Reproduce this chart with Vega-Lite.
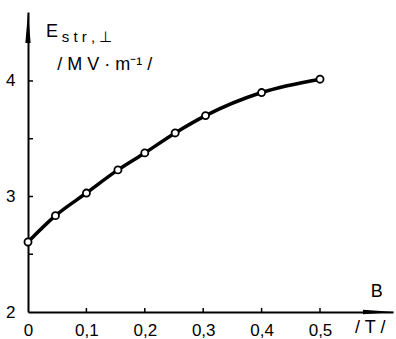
{
  "$schema": "https://vega.github.io/schema/vega-lite/v6.json",
  "width": 365,
  "height": 300,
  "autosize": {"type": "none"},
  "padding": {"left": 28, "top": 12, "right": 3, "bottom": 27},
  "background": "white",
  "config": {
    "view": {"stroke": null},
    "font": "Liberation Sans",
    "axis": {
      "grid": false,
      "ticks": false,
      "domainColor": "black",
      "domainWidth": 2,
      "labelColor": "black",
      "labelFont": "Liberation Sans",
      "labelFontSize": 17,
      "title": null
    }
  },
  "datasets": {
    "curve": [
      {"B": 0.0, "E": 2.606},
      {"B": 0.047, "E": 2.834},
      {"B": 0.1, "E": 3.03},
      {"B": 0.154, "E": 3.23},
      {"B": 0.2, "E": 3.377},
      {"B": 0.252, "E": 3.55},
      {"B": 0.304, "E": 3.70},
      {"B": 0.4, "E": 3.90},
      {"B": 0.5, "E": 4.015}
    ],
    "xticks": [{"v": 0.1}, {"v": 0.2}, {"v": 0.3}, {"v": 0.4}, {"v": 0.5}],
    "yticks": [{"v": 2.5}, {"v": 3}, {"v": 3.5}, {"v": 4}]
  },
  "layer": [
    {
      "data": {"name": "curve"},
      "mark": {"type": "line", "interpolate": "monotone", "color": "black", "strokeWidth": 3.5},
      "encoding": {
        "x": {
          "field": "B", "type": "quantitative",
          "scale": {"domain": [0, 0.625], "nice": false, "zero": false},
          "axis": {
            "orient": "bottom",
            "values": [0, 0.1, 0.2, 0.3, 0.4, 0.5],
            "labelExpr": "datum.value == 0 ? '0' : replace(format(datum.value, '.1f'), '.', ',')",
            "labelPadding": 10,
            "labelFlush": false
          }
        },
        "y": {
          "field": "E", "type": "quantitative",
          "scale": {"domain": [2, 4.597], "nice": false, "zero": false},
          "axis": {
            "orient": "left",
            "values": [2, 3, 4],
            "labelExpr": "format(datum.value, 'd')",
            "labelAlign": "right",
            "labelBaseline": "middle",
            "labelPadding": 13,
            "labelFlush": false
          }
        }
      }
    },
    {
      "data": {"name": "xticks"},
      "mark": {"type": "rule", "color": "black", "strokeWidth": 1.5},
      "encoding": {
        "x": {"field": "v", "type": "quantitative"},
        "y": {"datum": 2},
        "y2": {"datum": 2.035}
      }
    },
    {
      "data": {"name": "yticks"},
      "mark": {"type": "rule", "color": "black", "strokeWidth": 1.5},
      "encoding": {
        "y": {"field": "v", "type": "quantitative"},
        "x": {"datum": 0},
        "x2": {"datum": 0.0086}
      }
    },
    {
      "data": {"name": "curve"},
      "mark": {"type": "point", "shape": "circle", "filled": true, "fill": "white", "stroke": "black", "strokeWidth": 1.8, "size": 50, "opacity": 1},
      "encoding": {
        "x": {"field": "B", "type": "quantitative"},
        "y": {"field": "E", "type": "quantitative"}
      }
    },
    {
      "data": {"values": [{"B": 0, "E": 4.463}]},
      "mark": {"type": "point", "shape": "M 0 -1 L 0.17 1 L -0.17 1 Z", "filled": true, "color": "black", "size": 961, "opacity": 1},
      "encoding": {
        "x": {"field": "B", "type": "quantitative"},
        "y": {"field": "E", "type": "quantitative"}
      }
    },
    {
      "data": {"values": [{"B": 0.601, "E": 2}]},
      "mark": {"type": "point", "shape": "M 1 0 L -1 -0.14 L -1 0.14 Z", "filled": true, "color": "black", "size": 1024, "opacity": 1, "clip": false},
      "encoding": {
        "x": {"field": "B", "type": "quantitative"},
        "y": {"field": "E", "type": "quantitative"}
      }
    },
    {
      "data": {"values": [{"B": 0.031, "E": 4.381, "t": "E"}, {"B": 0.587, "E": 2.13, "t": "B"}]},
      "mark": {"type": "text", "align": "left", "baseline": "alphabetic", "fontSize": 18, "color": "black", "font": "Liberation Sans"},
      "encoding": {
        "x": {"field": "B", "type": "quantitative"},
        "y": {"field": "E", "type": "quantitative"},
        "text": {"field": "t"}
      }
    },
    {
      "data": {"values": [{"B": 0.058, "E": 4.338, "t": "s t r , ⊥"}]},
      "mark": {"type": "text", "align": "left", "baseline": "alphabetic", "fontSize": 15, "color": "black", "font": "Liberation Sans"},
      "encoding": {
        "x": {"field": "B", "type": "quantitative"},
        "y": {"field": "E", "type": "quantitative"},
        "text": {"field": "t"}
      }
    },
    {
      "data": {"values": [{"B": 0.05, "E": 4.095, "t": "/ M V · m⁻¹ /"}, {"B": 0.56, "E": 1.818, "t": "/ T /"}]},
      "mark": {"type": "text", "align": "left", "baseline": "alphabetic", "fontSize": 18, "color": "black", "font": "Liberation Sans", "clip": false},
      "encoding": {
        "x": {"field": "B", "type": "quantitative"},
        "y": {"field": "E", "type": "quantitative"},
        "text": {"field": "t"}
      }
    }
  ]
}
